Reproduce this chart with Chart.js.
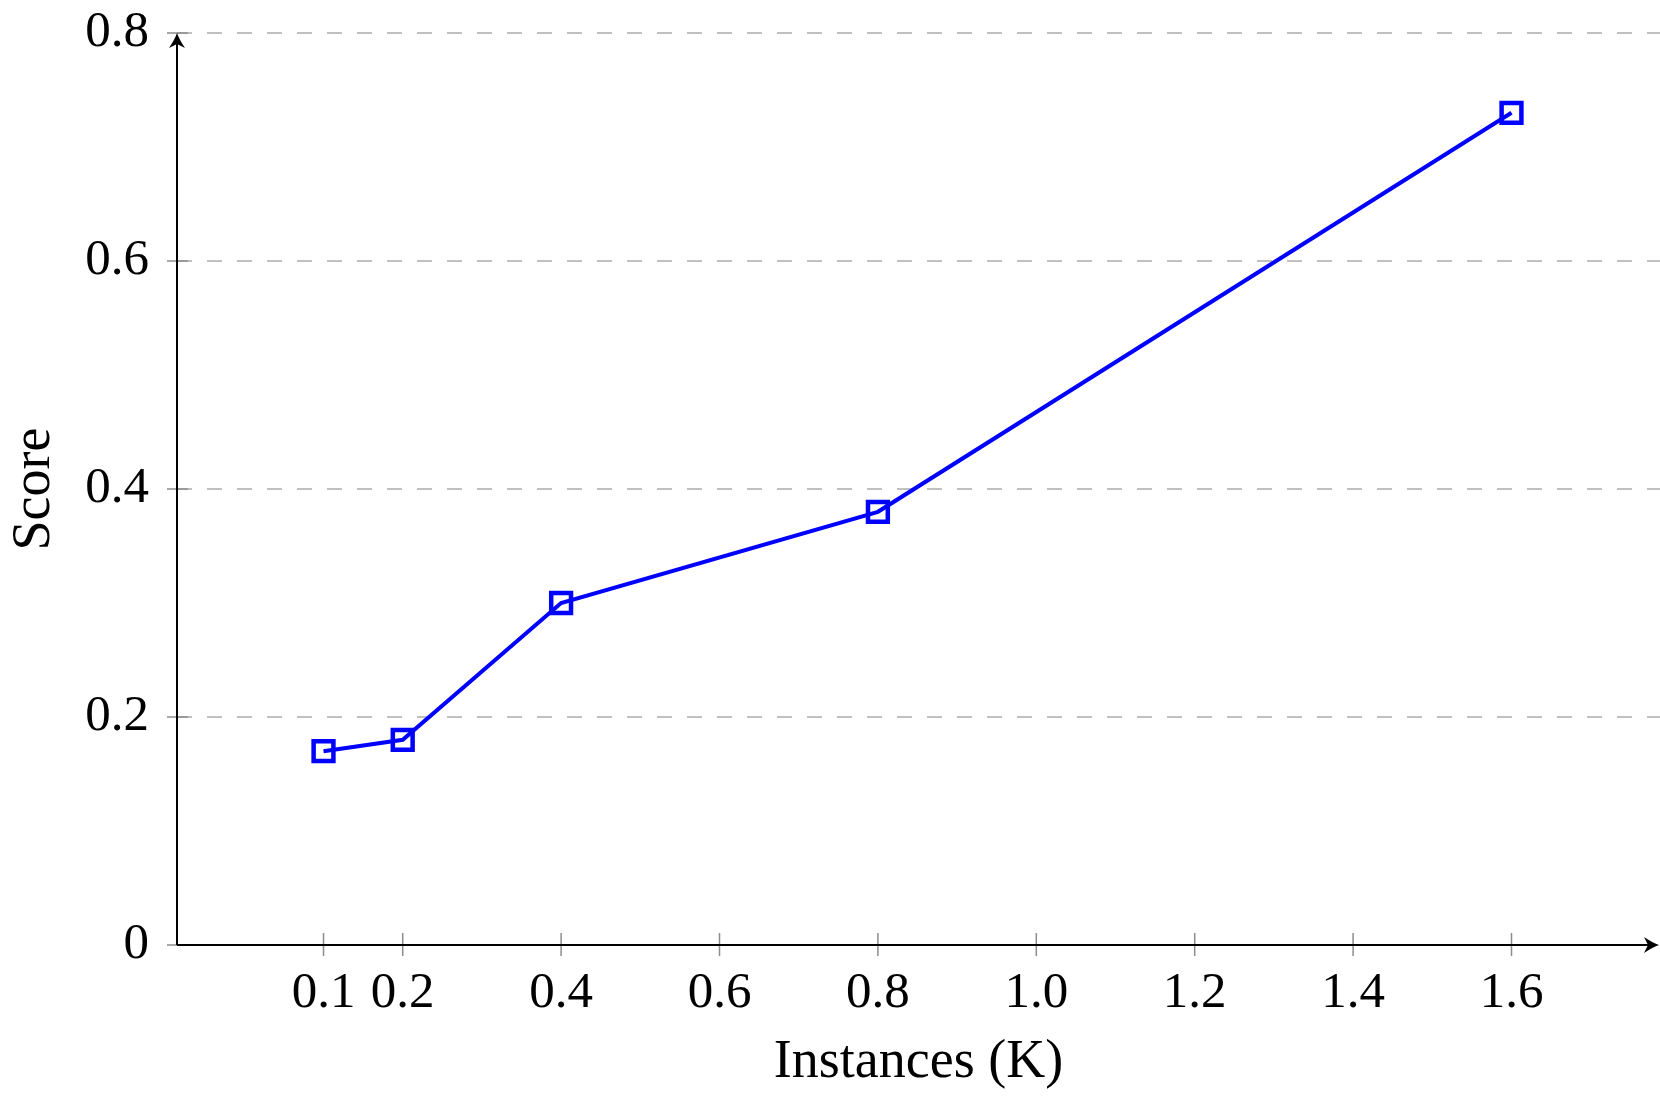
<!DOCTYPE html>
<html>
<head>
<meta charset="utf-8">
<script src="https://cdn.jsdelivr.net/npm/chart.js@4"></script>
<style>
  html, body { margin: 0; padding: 0; background: #fff; }
  canvas { display: block; }
</style>
</head>
<body>
<canvas id="scoreChart" width="1660" height="1107"></canvas>
<script>
const instances = [0.1, 0.2, 0.4, 0.8, 1.6];
const scores = [0.17, 0.18, 0.30, 0.38, 0.73];
const xTicks = [0.1, 0.2, 0.4, 0.6, 0.8, 1.0, 1.2, 1.4, 1.6];
const xTickLabels = ['0.1', '0.2', '0.4', '0.6', '0.8', '1.0', '1.2', '1.4', '1.6'];
const yTicks = [0, 0.2, 0.4, 0.6, 0.8];
const yTickLabels = ['0', '0.2', '0.4', '0.6', '0.8'];

const FONT = '"Liberation Serif", "Times New Roman", serif';

// axis lines with arrow heads + tick marks, pgfplots style
const axisArrows = {
    id: 'axisArrows',
    beforeDatasetsDraw(chart) {
        const { ctx, chartArea: a, scales: { x, y } } = chart;
        ctx.save();

        // tick marks
        ctx.strokeStyle = '#8c8c8c';
        ctx.lineWidth = 1.5;
        xTicks.forEach(v => {
            const px = x.getPixelForValue(v);
            ctx.beginPath();
            ctx.moveTo(px, a.bottom - 12);
            ctx.lineTo(px, a.bottom + 11);
            ctx.stroke();
        });
        yTicks.forEach(v => {
            const py = y.getPixelForValue(v);
            ctx.beginPath();
            ctx.moveTo(a.left - 10, py);
            ctx.lineTo(a.left + 11, py);
            ctx.stroke();
        });

        // axis lines
        ctx.strokeStyle = '#000';
        ctx.fillStyle = '#000';
        ctx.lineWidth = 2;
        ctx.beginPath();
        ctx.moveTo(a.left, a.bottom);
        ctx.lineTo(a.left, a.top + 4);
        ctx.moveTo(a.left, a.bottom);
        ctx.lineTo(a.right - 4, a.bottom);
        ctx.stroke();

        const arrow = (tx, ty, dir) => {
            ctx.save();
            ctx.translate(tx, ty);
            ctx.rotate(dir);
            ctx.beginPath();
            ctx.moveTo(0, 0);
            ctx.quadraticCurveTo(-6, 2, -15, 8);
            ctx.lineTo(-11, 0);
            ctx.lineTo(-15, -8);
            ctx.quadraticCurveTo(-6, -2, 0, 0);
            ctx.fill();
            ctx.restore();
        };
        arrow(a.left, a.top, -Math.PI / 2);
        arrow(a.right - 1, a.bottom, 0);
        ctx.restore();
    }
};

const noPad = scale => {
    scale.paddingTop = 0;
    scale.paddingBottom = 0;
    scale.paddingLeft = 0;
    scale.paddingRight = 0;
};

new Chart(document.getElementById('scoreChart').getContext('2d'), {
    type: 'line',
    data: {
        datasets: [{
            label: 'Score',
            data: instances.map((v, i) => ({ x: v, y: scores[i] })),
            borderColor: '#0000ff',
            backgroundColor: 'rgba(0,0,0,0)',
            borderWidth: 4,
            pointStyle: 'rect',
            pointRadius: 14,
            pointBorderWidth: 4.5,
            pointBorderColor: '#0000ff',
            pointBackgroundColor: 'rgba(0,0,0,0)',
            tension: 0
        }]
    },
    plugins: [axisArrows],
    options: {
        responsive: false,
        animation: false,
        layout: {
            autoPadding: false,
            padding: { top: 33, right: 0, left: 0, bottom: 0 }
        },
        plugins: {
            legend: { display: false },
            tooltip: { enabled: false }
        },
        scales: {
            x: {
                type: 'linear',
                min: -0.085,
                max: 1.7875,
                afterBuildTicks: scale => {
                    scale.ticks = xTicks.map(v => ({ value: v }));
                },
                afterFit: scale => { scale.height = 162; noPad(scale); },
                ticks: {
                    color: '#000',
                    font: { family: FONT, size: 51 },
                    padding: 18,
                    maxRotation: 0,
                    autoSkip: false,
                    callback: v => xTickLabels[xTicks.indexOf(v)]
                },
                grid: { display: false, drawTicks: false },
                border: { display: false },
                title: {
                    display: true,
                    text: 'Instances (K)',
                    color: '#000',
                    font: { family: FONT, size: 54 },
                    padding: { top: 0, bottom: 12 }
                }
            },
            y: {
                min: 0,
                max: 0.8,
                afterBuildTicks: scale => {
                    scale.ticks = yTicks.map(v => ({ value: v }));
                },
                afterFit: scale => { scale.width = 177; noPad(scale); },
                ticks: {
                    color: '#000',
                    font: { family: FONT, size: 51 },
                    padding: 28,
                    callback: v => yTickLabels[yTicks.indexOf(v)]
                },
                grid: {
                    drawTicks: false,
                    lineWidth: 2,
                    color: c => (c.tick && c.tick.value === 0) ? 'rgba(0,0,0,0)' : '#c0c0c0'
                },
                border: { display: false, dash: [15, 15] },
                title: {
                    display: true,
                    text: 'Score',
                    color: '#000',
                    font: { family: FONT, size: 54 },
                    padding: { top: 2, bottom: 0 }
                }
            }
        }
    }
});
</script>
</body>
</html>
